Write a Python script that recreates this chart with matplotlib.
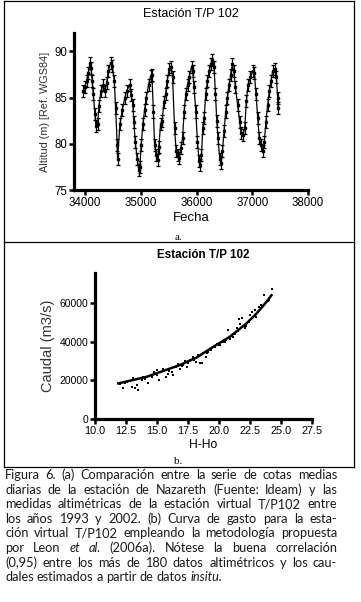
import matplotlib
matplotlib.use("Agg")
import matplotlib.pyplot as plt
from matplotlib.lines import Line2D

# ---- data: panel a (Estacion T/P 102 time series) ----
fecha = [33967, 33997, 34027, 34056, 34087, 34104, 34128, 34146, 34176, 34194,
         34224, 34248, 34284, 34325, 34355, 34386, 34415, 34457, 34487, 34523,
         34547, 34576, 34582, 34624, 34666, 34714, 34744, 34798, 34827, 34857,
         34875, 34899, 34935, 34960, 34983, 35006, 35037, 35067, 35096, 35139,
         35174, 35198, 35225, 35246, 35275, 35305, 35323, 35354, 35383, 35413,
         35444, 35472, 35508, 35545, 35569, 35605, 35634, 35664, 35690, 35715,
         35748, 35777, 35807, 35838, 35866, 35909, 35932, 35955, 35986, 36016,
         36045, 36063, 36088, 36112, 36135, 36165, 36196, 36224, 36255, 36285,
         36314, 36339, 36363, 36385, 36416, 36439, 36465, 36493, 36523, 36554,
         36582, 36613, 36643, 36667, 36697, 36738, 36774, 36798, 36834, 36864,
         36894, 36923, 36966, 37007, 37037, 37067, 37097, 37127, 37156, 37186,
         37216, 37245, 37276, 37306, 37335, 37366, 37402, 37432, 37455, 37461]
altitud = [85.7, 86.2, 86.8, 87.7, 88.8, 88.2, 86.8, 85.4, 83.2, 81.9,
           82.1, 84.1, 85.7, 86.4, 85.7, 86.6, 87.9, 88.8, 88.4, 86.8,
           83.9, 79.9, 78.4, 82.1, 83.7, 85.0, 85.7, 86.4, 85.3, 84.2,
           82.4, 80.2, 78.4, 77.2, 77.5, 79.9, 82.1, 83.7, 85.0, 86.4,
           87.3, 87.5, 83.5, 79.9, 78.8, 78.2, 79.7, 82.1, 82.5, 84.5,
           85.4, 86.8, 88.1, 88.3, 87.2, 81.7, 79.2, 78.8, 78.5, 79.5,
           80.6, 83.5, 85.4, 86.4, 87.2, 88.3, 87.9, 86.1, 83.5, 80.2,
           78.1, 77.7, 78.8, 81.7, 82.8, 85.4, 86.8, 87.9, 88.6, 89.1,
           88.3, 85.4, 82.5, 80.6, 78.4, 77.9, 79.2, 81.4, 83.5, 85.0,
           86.4, 87.5, 88.6, 87.9, 86.1, 84.2, 82.4, 81.2, 81.0, 81.7,
           84.6, 86.4, 87.2, 87.9, 87.7, 85.4, 82.8, 80.6, 79.9, 79.2,
           80.2, 82.4, 84.2, 85.7, 86.8, 87.9, 88.1, 87.2, 85.0, 83.9]
error = 0.65

# ---- data: panel b (rating curve) ----
h_obs = [12.0, 12.23, 12.4, 12.6, 12.95, 13.09, 13.22, 13.4, 13.49, 13.76,
         13.9, 14.0, 14.3, 14.56, 14.75, 14.97, 15.0, 15.18, 15.5, 15.72,
         15.9, 16.0, 16.17, 16.31, 16.52, 16.71, 16.84, 17.0, 17.06, 17.25,
         17.38, 17.51, 17.7, 17.92, 18.0, 18.13, 18.32, 18.45, 18.6, 18.72,
         18.93, 19.0, 19.12, 19.39, 19.66, 19.8, 20.0, 20.06, 20.33, 20.5,
         20.6, 20.74, 20.87, 21.0, 21.14, 21.27, 21.46, 21.5, 21.62, 21.73,
         21.89, 22.0, 22.08, 22.21, 22.43, 22.5, 22.53, 22.7, 22.88, 23.0,
         23.02, 23.23, 23.42, 23.5, 23.6, 23.82, 23.96, 24.0, 24.3]
q_obs = [18200, 15800, 18500, 19000, 16700, 21000, 15800, 17500, 15000, 20100,
         21800, 20500, 18700, 21800, 24400, 25300, 22500, 20100, 26100, 21800,
         23500, 24600, 24400, 22700, 27000, 28700, 26100, 27300, 27800, 30100,
         27000, 29000, 30400, 32100, 30500, 29600, 33000, 29000, 29000, 33900,
         32100, 34000, 34700, 35600, 37000, 39000, 38500, 38200, 39900, 40000,
         40700, 45900, 41600, 43000, 42500, 44200, 47300, 45500, 51900, 49300,
         52400, 48000, 47300, 48000, 50200, 51000, 53600, 55400, 56200, 54500,
         52800, 57900, 58800, 58000, 63900, 60500, 61000, 61500, 67400]
h_fit = [11.88, 14.16, 16.84, 18.19, 19.53, 20.87, 22.21, 23.02, 23.82, 24.23]
q_fit = [18400, 21800, 27900, 31800, 37300, 42500, 49400, 54500, 60500, 64000]

caption = [
    [("Figura 6. (a) Comparación entre la serie de cotas medias", False)],
    [("diarias de la estación de Nazareth (Fuente: Ideam) y las", False)],
    [("medidas altimétricas de la estación virtual T/P102 entre", False)],
    [("los años 1993 y 2002.  (b) Curva de gasto para la esta-", False)],
    [("ción virtual T/P102 empleando la metodología propuesta", False)],
    [("por Leon", False), ("et al.", True), ("(2006a). Nótese la buena correlación", False)],
    [("(0,95) entre los más de 180 datos altimétricos y los cau-", False)],
    [("dales estimados a partir de datos", False), ("insitu.", True)],
]

W, H = 361, 602
plt.rcParams['font.family'] = ['Liberation Sans', 'DejaVu Sans']
fig = plt.figure(figsize=(W / 100, H / 100), dpi=100)


def fx(x):
    return x / W


def fy(y):
    return 1 - y / H


def style_axes(ax):
    for s in ("top", "right"):
        ax.spines[s].set_visible(False)
    for s in ("left", "bottom"):
        ax.spines[s].set_linewidth(2.3)
    ax.tick_params(direction="out", length=3.5, width=1.8, pad=1.5, colors="black")


# ---- panel a ----
ax1 = fig.add_axes([fx(74), fy(190), fx(234), 157 / H])
ax1.errorbar(fecha, altitud, yerr=error, color="black", lw=0.9, marker="s",
             ms=1.8, capsize=1.7, elinewidth=0.9, capthick=0.9)
ax1.set_xlim(33800, 38000)
ax1.set_ylim(75, 92)
ax1.set_xticks([34000, 35000, 36000, 37000, 38000])
ax1.set_yticks([75, 80, 85, 90])
style_axes(ax1)
ax1.tick_params(labelsize=8.3)
ax1.set_xlabel("Fecha", fontsize=9.5, labelpad=2)
ax1.set_ylabel("Altitud (m) [Ref. WGS84]", fontsize=7.8, color="#333333", labelpad=3)
ax1.set_title("Estación T/P 102", fontsize=9.1, pad=11.5)

# ---- panel b ----
ax2 = fig.add_axes([fx(95), fy(419), fx(217), 146 / H])
ax2.scatter(h_obs, q_obs, marker="s", s=4.5, color="black", linewidths=0)
ax2.plot(h_fit, q_fit, color="black", lw=1.8)
ax2.set_xlim(10, 27.5)
ax2.set_ylim(0, 75500)
ax2.set_xticks([10.0, 12.5, 15.0, 17.5, 20.0, 22.5, 25.0, 27.5])
ax2.set_xticklabels(["10.0", "12.5", "15.0", "17.5", "20.0", "22.5", "25.0", "27.5"])
ax2.set_yticks([0, 20000, 40000, 60000])
style_axes(ax2)
ax2.tick_params(axis="x", labelsize=7.8)
ax2.tick_params(axis="y", labelsize=7.5)
ax2.set_xlabel("H-Ho", fontsize=8.7, labelpad=2)
ax2.set_ylabel("Caudal (m3/s)", fontsize=10.5, color="#333333", labelpad=3)
ax2.set_title("Estación T/P 102", fontsize=8.4, fontweight="bold", pad=11)

fig.text(fx(178), fy(237), "a.", fontsize=8, family="Liberation Serif", ha="center", va="center")
fig.text(fx(178), fy(462), "b.", fontsize=8, family="Liberation Serif", ha="center", va="center")

# ---- frame lines ----
for xs, ys in [([4, 354], [1, 1]), ([4, 354], [242, 242]), ([4, 354], [467, 467]),
               ([4, 4], [1, 467]), ([354, 354], [1, 467])]:
    fig.add_artist(Line2D([fx(x) for x in xs], [fy(y) for y in ys], color="black", lw=0.9))

# ---- caption, justified ----
renderer = fig.canvas.get_renderer()
left, right = 5, 337
cap_font = dict(fontsize=9.2, family="Lato", color="#1a1a1a", va="center")
probe = [fig.text(0, 0, s, **cap_font) for s in ("a a", "a")]
space = probe[0].get_window_extent(renderer).width - 2 * probe[1].get_window_extent(renderer).width
for p in probe:
    p.remove()
for i, line in enumerate(caption):
    y = 475 + i * 14.6
    words = []
    for chunk, ital in line:
        for w in chunk.split(" "):
            if w:
                words.append((w, ital))
    texts = [fig.text(0, fy(y), w, style="italic" if it else "normal", **cap_font)
             for w, it in words]
    widths = [t.get_window_extent(renderer).width for t in texts]
    if i == len(caption) - 1:
        gap = space
    else:
        gap = max((right - left - sum(widths)) / (len(words) - 1), 1.5)
    x = left
    for t, w in zip(texts, widths):
        t.set_x(fx(x))
        x += w + gap

fig.savefig("out.png", dpi=100)
